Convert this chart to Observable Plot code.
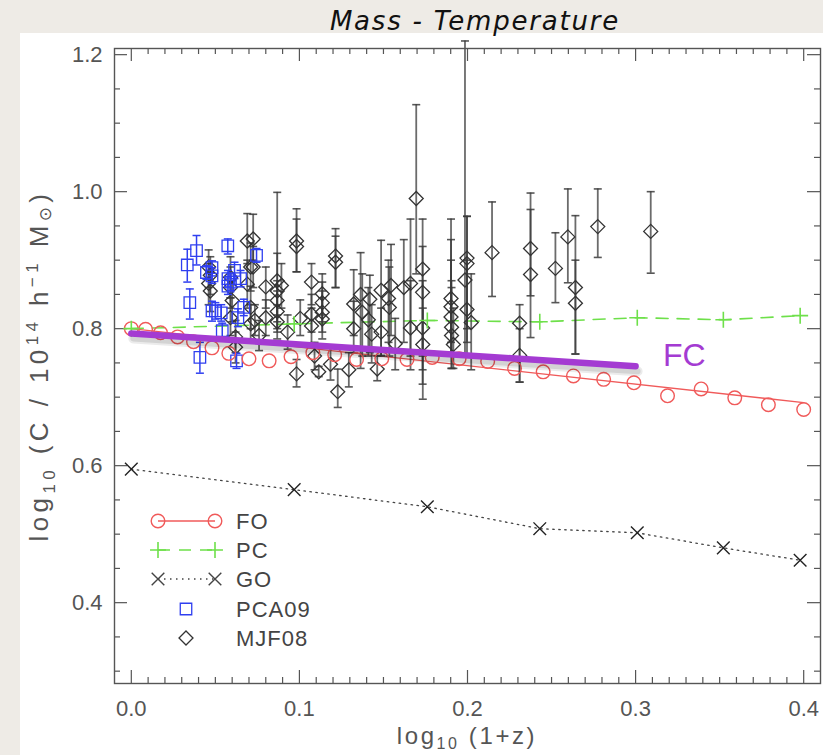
<!DOCTYPE html>
<html><head><meta charset="utf-8">
<script src="https://cdn.jsdelivr.net/npm/d3@7"></script>
<script src="https://cdn.jsdelivr.net/npm/@observablehq/plot@0.6"></script>
<style>
html,body{margin:0;padding:0;}
body{width:823px;height:755px;background:#eeebe6;position:relative;overflow:hidden;font-family:"Liberation Sans",Arial,sans-serif;}
#title{position:absolute;z-index:2;left:0;width:950px;top:6px;line-height:30px;text-align:center;font-family:"DejaVu Sans",sans-serif;font-style:italic;font-size:26px;color:#111;letter-spacing:1.8px;}
#panel{position:absolute;z-index:1;left:20px;top:33px;width:803px;height:722px;background:#fff;}
</style></head>
<body>
<div id="title">Mass - Temperature</div>
<div id="panel"></div>
<script>
// ---------- data ----------
const snapX = [0, 0.0969, 0.1761, 0.2430, 0.3010, 0.3522, 0.3979];
const pcY   = [0.800, 0.807, 0.812, 0.810, 0.816, 0.813, 0.819];
const goY   = [0.595, 0.565, 0.540, 0.508, 0.502, 0.480, 0.462];

const foX = [0, 0.0085, 0.0174, 0.0275, 0.037, 0.048, 0.058, 0.070, 0.082, 0.095, 0.108, 0.121, 0.134, 0.149, 0.164, 0.179, 0.195, 0.212, 0.228, 0.245, 0.263, 0.281, 0.299, 0.319, 0.339, 0.359, 0.379, 0.400];
const foY = [0.800, 0.799, 0.794, 0.788, 0.781, 0.772, 0.764, 0.756, 0.753, 0.759, 0.765, 0.762, 0.755, 0.756, 0.755, 0.758, 0.756, 0.752, 0.742, 0.737, 0.731, 0.726, 0.721, 0.702, 0.712, 0.699, 0.689, 0.682];
const foFitX = [0, 0.4];
const foFitY = [0.800, 0.692];

const fcX = [0, 0.300];
const fcY = [0.793, 0.745];
const fcLabelX = [0.329];
const fcLabelY = [0.761];
const fcLabelText = ["FC"];

const pcaX  = [0.0333,0.0388,0.0348,0.0408,0.0574,0.0447,0.0480,0.0480,0.0480,0.0500,0.0535,0.0575,0.0590,0.0614,0.0650,0.0669,0.0634,0.0541,0.0626,0.0745,0.0575];
const pcaY  = [0.893,0.914,0.838,0.758,0.921,0.882,0.889,0.877,0.826,0.826,0.823,0.873,0.868,0.885,0.873,0.831,0.816,0.797,0.753,0.907,0.862];
const pcaLo = [0.868,0.893,0.814,0.735,0.909,0.872,0.877,0.866,0.811,0.814,0.811,0.861,0.856,0.873,0.861,0.819,0.803,0.786,0.742,0.897,0.850];
const pcaHi = [0.916,0.936,0.858,0.780,0.931,0.892,0.899,0.889,0.840,0.838,0.835,0.885,0.880,0.897,0.885,0.843,0.829,0.808,0.764,0.917,0.874];

const mjfX  = [0.046,0.047,0.046,0.047,0.059,0.059,0.060,0.059,0.062,0.062,0.069,0.071,0.069,0.071,0.071,0.0725,0.0725,0.0735,0.080,0.080,0.0868,0.0868,0.0893,0.0868,0.0868,0.0868,0.0983,0.0983,0.0983,0.1072,0.1072,0.1072,0.1136,0.1136,0.1136,0.1136,0.1115,0.1185,0.1215,0.1215,0.1228,0.1294,0.1323,0.1323,0.1364,0.1374,0.1419,0.1463,0.1486,0.1486,0.1545,0.1535,0.1530,0.1621,0.1661,0.1661,0.1695,0.1733,0.1733,0.1733,0.1734,0.1902,0.1902,0.1902,0.1905,0.1905,0.1916,0.1997,0.1997,0.1985,0.1997,0.2022,0.2146,0.2375,0.2375,0.2310,0.2310,0.2523,0.2597,0.2642,0.2642,0.2775,0.3090,0.1410,0.1570,0.1430,0.1005,0.0930,0.0760,0.1090];
const mjfY  = [0.890,0.878,0.866,0.855,0.875,0.860,0.841,0.816,0.788,0.773,0.928,0.890,0.865,0.831,0.807,0.931,0.890,0.812,0.861,0.816,0.870,0.855,0.863,0.841,0.825,0.810,0.928,0.920,0.734,0.868,0.821,0.804,0.851,0.838,0.824,0.814,0.737,0.748,0.906,0.897,0.708,0.740,0.836,0.800,0.850,0.824,0.843,0.741,0.856,0.795,0.863,0.831,0.844,0.860,0.866,0.801,0.990,0.887,0.853,0.801,0.777,0.844,0.832,0.817,0.802,0.790,0.777,0.903,0.895,0.871,0.828,0.809,0.911,0.917,0.879,0.808,0.761,0.888,0.934,0.860,0.837,0.949,0.942,0.813,0.778,0.792,0.815,0.795,0.790,0.760];
const mjfLo = [0.860,0.850,0.835,0.825,0.845,0.830,0.810,0.790,0.765,0.750,0.895,0.855,0.830,0.800,0.780,0.900,0.860,0.790,0.830,0.790,0.820,0.800,0.830,0.810,0.795,0.785,0.883,0.883,0.715,0.835,0.795,0.775,0.820,0.810,0.795,0.785,0.730,0.725,0.860,0.860,0.685,0.715,0.790,0.765,0.742,0.760,0.765,0.724,0.761,0.760,0.790,0.760,0.780,0.780,0.760,0.740,0.880,0.719,0.760,0.740,0.697,0.780,0.760,0.760,0.742,0.742,0.742,0.800,0.780,0.760,0.760,0.740,0.847,0.848,0.787,0.722,0.722,0.838,0.867,0.763,0.763,0.904,0.881,0.760,0.740,0.750,0.790,0.770,0.768,0.740];
const mjfHi = [0.915,0.905,0.895,0.882,0.905,0.890,0.870,0.845,0.812,0.795,0.968,0.925,0.900,0.862,0.835,0.967,0.920,0.835,0.890,0.842,0.999,0.910,0.895,0.870,0.855,0.835,0.975,0.960,0.755,0.895,0.850,0.830,0.880,0.868,0.855,0.845,0.745,0.775,0.946,0.935,0.741,0.765,0.886,0.840,0.911,0.880,0.878,0.760,0.929,0.830,0.923,0.890,0.900,0.930,0.960,0.870,1.127,0.960,0.920,0.870,0.830,0.960,0.930,0.900,0.870,0.860,0.830,0.964,0.964,1.220,0.900,0.880,0.985,0.998,0.974,0.835,0.800,0.940,1.004,0.965,0.900,1.004,1.000,0.860,0.815,0.835,0.842,0.820,0.812,0.780];

const xTickValues = [0.0, 0.1, 0.2, 0.3, 0.4];
const yTickValues = [0.4, 0.6, 0.8, 1.0, 1.2];
const legendNames = ["FO", "PC", "GO", "PCA09", "MJF08"];

// ---------- tables ----------
const fo = foX.map((x, i) => ({x, y: foY[i]}));
const foFit = foFitX.map((x, i) => ({x, y: foFitY[i]}));
const pc = snapX.map((x, i) => ({x, y: pcY[i]}));
const go = snapX.map((x, i) => ({x, y: goY[i]}));
const fc = fcX.map((x, i) => ({x, y: fcY[i]}));
const fcLab = fcLabelX.map((x, i) => ({x, y: fcLabelY[i], t: fcLabelText[i]}));
const pca = pcaX.map((x, i) => ({x, y: pcaY[i], lo: pcaLo[i], hi: pcaHi[i]}));
const mjf = mjfX.map((x, i) => ({x, y: mjfY[i], lo: mjfLo[i], hi: mjfHi[i]}));

const minorX = d3.range(0, 41).map(i => i / 100).filter(v => Math.abs(v * 10 - Math.round(v * 10)) > 1e-6);
const minorY = d3.range(6, 25).map(i => i / 20).filter(v => Math.abs(v * 5 - Math.round(v * 5)) > 1e-6);

const W = 803, H = 722, mL = 94, mR = 3, mT = 15, mB = 72;
const FW = W - mL - mR, FH = H - mT - mB;
const MAJ = 13, MIN = 6;
const AX = "#555";

const capSym = {draw(ctx, size) { const r = Math.sqrt(size / Math.PI); ctx.moveTo(-r, 0); ctx.lineTo(r, 0); }};

const RED = "#f05a5a", GREEN = "#6ee04a", BLUE = "#2f3ff0", PURPLE = "#a43bd2";
const BAR = "#3a3a3a";

const plot = Plot.plot({
  width: W, height: H,
  marginLeft: mL, marginRight: mR, marginTop: mT, marginBottom: mB,
  style: {background: "transparent", color: AX, fontSize: "22px", fontFamily: "'Liberation Sans', Arial, sans-serif"},
  x: {domain: [-0.010, 0.410], ticks: xTickValues, tickSize: 0, tickPadding: 17, tickFormat: d => d.toFixed(1), label: null},
  y: {domain: [0.282, 1.209], ticks: yTickValues, tickSize: 0, tickPadding: 12, tickFormat: d => d.toFixed(1), label: null},
  marks: [
    // inward ticks on all four sides
    Plot.ruleX(xTickValues, {insetTop: FH - MAJ, stroke: AX, strokeWidth: 1.2}),
    Plot.ruleX(xTickValues, {insetBottom: FH - MAJ, stroke: AX, strokeWidth: 1.2}),
    Plot.ruleX(minorX, {insetTop: FH - MIN, stroke: AX, strokeWidth: 1.2}),
    Plot.ruleX(minorX, {insetBottom: FH - MIN, stroke: AX, strokeWidth: 1.2}),
    Plot.ruleY(yTickValues, {insetRight: FW - MAJ, stroke: AX, strokeWidth: 1.2}),
    Plot.ruleY(yTickValues, {insetLeft: FW - MAJ, stroke: AX, strokeWidth: 1.2}),
    Plot.ruleY(minorY, {insetRight: FW - MIN, stroke: AX, strokeWidth: 1.2}),
    Plot.ruleY(minorY, {insetLeft: FW - MIN, stroke: AX, strokeWidth: 1.2}),
    // model lines
    Plot.line(foFit, {x: "x", y: "y", stroke: RED, strokeWidth: 1.4}),
    Plot.line(go, {x: "x", y: "y", stroke: "#444", strokeWidth: 1.3, strokeDasharray: "1.5,4.5"}),
    Plot.line(pc, {x: "x", y: "y", stroke: GREEN, strokeWidth: 1.6, strokeDasharray: "12,9"}),
    // MJF08 error bars + diamonds
    Plot.ruleX(mjf, {x: "x", y1: "lo", y2: "hi", stroke: BAR, strokeOpacity: 0.75, strokeWidth: 1.8}),
    Plot.dot(mjf, {x: "x", y: "lo", symbol: capSym, r: 4, stroke: BAR, strokeOpacity: 0.85, strokeWidth: 1.6, fill: "none"}),
    Plot.dot(mjf, {x: "x", y: "hi", symbol: capSym, r: 4, stroke: BAR, strokeOpacity: 0.85, strokeWidth: 1.6, fill: "none"}),
    Plot.dot(mjf, {x: "x", y: "y", symbol: "diamond2", r: 6.3, stroke: "#333", strokeWidth: 1.3, fill: "none"}),
    // PCA09 error bars + squares
    Plot.ruleX(pca, {x: "x", y1: "lo", y2: "hi", stroke: BLUE, strokeWidth: 1.5}),
    Plot.dot(pca, {x: "x", y: "lo", symbol: capSym, r: 4, stroke: BLUE, strokeWidth: 1.5, fill: "none"}),
    Plot.dot(pca, {x: "x", y: "hi", symbol: capSym, r: 4, stroke: BLUE, strokeWidth: 1.5, fill: "none"}),
    Plot.dot(pca, {x: "x", y: "y", symbol: "square2", r: 7.3, stroke: BLUE, strokeWidth: 1.3, fill: "none"}),
    // model markers
    Plot.dot(fo, {x: "x", y: "y", symbol: "circle", r: 6.8, stroke: RED, strokeWidth: 1.4, fill: "none"}),
    Plot.dot(pc, {x: "x", y: "y", symbol: "plus", r: 5.2, stroke: GREEN, strokeWidth: 1.6}),
    Plot.dot(go, {x: "x", y: "y", symbol: "times", r: 5.8, stroke: "#222", strokeWidth: 1.4}),
    // FC (soft shadow + line)
    Plot.line(fc, {x: "x", y: "y", stroke: "#000", strokeOpacity: 0.08, strokeWidth: 10, dx: 2, dy: 5}),
    Plot.line(fc, {x: "x", y: "y", stroke: "#000", strokeOpacity: 0.1, strokeWidth: 6, dx: 2, dy: 5}),
    Plot.line(fc, {x: "x", y: "y", stroke: PURPLE, strokeWidth: 6.5}),
    Plot.text(fcLab, {x: "x", y: "y", text: "t", fill: PURPLE, fontSize: 32, textAnchor: "middle"}),
    Plot.frame({stroke: AX, strokeWidth: 1.4})
  ]
});

document.getElementById("panel").appendChild(plot);

// ---------- axis titles with sub/superscripts ----------
const svg = d3.select(plot);
const xl = svg.append("text").attr("x", mL + FW / 2).attr("y", 711).attr("text-anchor", "middle")
  .attr("fill", AX).attr("font-size", 24).attr("letter-spacing", 2.6);
xl.append("tspan").text("log");
xl.append("tspan").attr("font-size", 16).attr("dy", 5).text("10");
xl.append("tspan").attr("dy", -5).text(" (1+z)");

const yl = svg.append("text").attr("transform", `translate(28,${mT + FH / 2}) rotate(-90)`).attr("text-anchor", "middle")
  .attr("fill", AX).attr("font-size", 26).attr("letter-spacing", 4.4);
yl.append("tspan").text("log");
yl.append("tspan").attr("font-size", 17).attr("dy", 7).text("10");
yl.append("tspan").attr("dy", -7).text(" (C / 10");
yl.append("tspan").attr("font-size", 17).attr("dy", -10).text("14");
yl.append("tspan").attr("dy", 10).text(" h");
yl.append("tspan").attr("font-size", 17).attr("dy", -10).text("\u22121");
yl.append("tspan").attr("dy", 10).text(" M");
yl.append("tspan").attr("font-size", 17).attr("dy", 3).attr("font-family", "'DejaVu Sans'").text("\u2299");
yl.append("tspan").attr("dy", -3).text(")");

// ---------- legend ----------
const lg = svg.append("g");
const rows = [488, 517, 546, 576, 605];
const x1 = 138, x2 = 195, tx = 216;
function sym(type, r) { return d3.symbol(type, r * r * Math.PI)(); }
function addRow(i, opts) {
  const y = rows[i];
  if (opts.line) lg.append("line").attr("x1", x1).attr("x2", x2).attr("y1", y).attr("y2", y)
    .attr("stroke", opts.color).attr("stroke-width", opts.lw).attr("stroke-dasharray", opts.dash || null);
  const pts = opts.line ? [x1, x2] : [166];
  pts.forEach(px => lg.append("path").attr("d", sym(opts.sym, opts.r)).attr("transform", `translate(${px},${y})`)
    .attr("fill", "none").attr("stroke", opts.color).attr("stroke-width", opts.sw));
  lg.append("text").attr("x", tx).attr("y", y).attr("dy", "0.36em").attr("text-anchor", "start")
    .attr("fill", "#444").attr("font-size", 22).attr("letter-spacing", 1).text(legendNames[i]);
}
addRow(0, {line: true, color: RED, lw: 1.4, sym: d3.symbolCircle, r: 6.8, sw: 1.4});
addRow(1, {line: true, color: GREEN, lw: 1.6, dash: "12,9", sym: d3.symbolPlus, r: 5.2, sw: 1.6});
addRow(2, {line: true, color: "#444", lw: 1.3, dash: "1.5,4.5", sym: d3.symbolTimes, r: 5.8, sw: 1.4});
addRow(3, {line: false, color: BLUE, sym: d3.symbolSquare2, r: 7.3, sw: 1.3});
addRow(4, {line: false, color: "#333", sym: d3.symbolDiamond2, r: 6.3, sw: 1.3});
</script>
</body></html>
